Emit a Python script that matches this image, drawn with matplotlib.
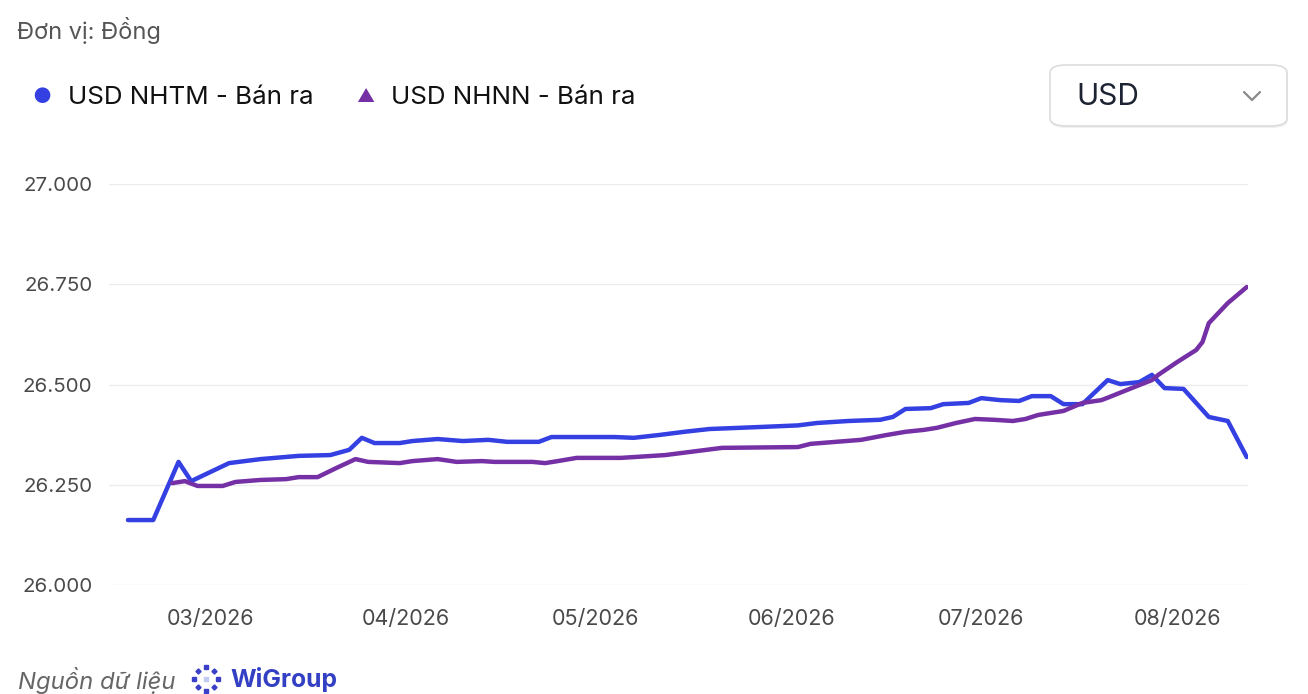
import matplotlib
matplotlib.use("Agg")
import matplotlib.pyplot as plt
import matplotlib.dates as mdates
from matplotlib.patches import FancyBboxPatch
import numpy as np
import pandas as pd

# ---------------- data ----------------
nhtm_dates = ["2026-02-16", "2026-02-20", "2026-02-24", "2026-02-26", "2026-03-04",
              "2026-03-09", "2026-03-15", "2026-03-20", "2026-03-23", "2026-03-25",
              "2026-03-27", "2026-03-31", "2026-04-02", "2026-04-06", "2026-04-10",
              "2026-04-14", "2026-04-17", "2026-04-22", "2026-04-24", "2026-05-04",
              "2026-05-07", "2026-05-11", "2026-05-15", "2026-05-19", "2026-05-27",
              "2026-06-02", "2026-06-05", "2026-06-10", "2026-06-15", "2026-06-17",
              "2026-06-19", "2026-06-23", "2026-06-25", "2026-06-29", "2026-07-01",
              "2026-07-04", "2026-07-07", "2026-07-09", "2026-07-12", "2026-07-14",
              "2026-07-17", "2026-07-21", "2026-07-23", "2026-07-26", "2026-07-28",
              "2026-07-30", "2026-08-02", "2026-08-06", "2026-08-09", "2026-08-12"]
nhtm_values = [26162, 26162, 26307, 26259, 26304,
               26314, 26322, 26324, 26337, 26367,
               26354, 26354, 26359, 26364, 26359,
               26362, 26357, 26357, 26369, 26369,
               26367, 26374, 26382, 26389, 26394,
               26398, 26404, 26409, 26412, 26419,
               26439, 26441, 26451, 26454, 26466,
               26461, 26459, 26471, 26471, 26451,
               26451, 26511, 26501, 26506, 26524,
               26491, 26489, 26419, 26409, 26319]

nhnn_dates = ["2026-02-23", "2026-02-25", "2026-02-27", "2026-03-03", "2026-03-05",
              "2026-03-09", "2026-03-13", "2026-03-15", "2026-03-18", "2026-03-21",
              "2026-03-24", "2026-03-26", "2026-03-31", "2026-04-02", "2026-04-06",
              "2026-04-09", "2026-04-13", "2026-04-15", "2026-04-21", "2026-04-23",
              "2026-04-25", "2026-04-28", "2026-05-05", "2026-05-12", "2026-05-16",
              "2026-05-21", "2026-06-02", "2026-06-04", "2026-06-08", "2026-06-12",
              "2026-06-16", "2026-06-19", "2026-06-22", "2026-06-24", "2026-06-27",
              "2026-06-30", "2026-07-03", "2026-07-06", "2026-07-08", "2026-07-10",
              "2026-07-14", "2026-07-17", "2026-07-20", "2026-07-21", "2026-07-24",
              "2026-07-28", "2026-07-29", "2026-08-01", "2026-08-04", "2026-08-05",
              "2026-08-06", "2026-08-09", "2026-08-12"]
nhnn_values = [26254, 26259, 26247, 26247, 26257,
               26262, 26264, 26269, 26269, 26292,
               26314, 26307, 26304, 26309, 26314,
               26307, 26309, 26307, 26307, 26304,
               26309, 26317, 26317, 26324, 26332,
               26342, 26344, 26352, 26357, 26362,
               26374, 26382, 26387, 26392, 26404,
               26414, 26412, 26409, 26414, 26424,
               26434, 26454, 26461, 26467, 26486,
               26511, 26524, 26556, 26586, 26606,
               26653, 26703, 26743]

y_ticks = [26000, 26250, 26500, 26750, 27000]
y_tick_labels = ["26.000", "26.250", "26.500", "26.750", "27.000"]
x_tick_dates = ["2026-03-01", "2026-04-01", "2026-05-01", "2026-06-01", "2026-07-01", "2026-08-01"]
x_tick_labels = ["03/2026", "04/2026", "05/2026", "06/2026", "07/2026", "08/2026"]

series_names = ["USD NHTM - Bán ra", "USD NHNN - Bán ra"]
BLUE = "#3440E2"
PURPLE = "#7530A6"

# ---------------- figure ----------------
plt.rcParams['font.family'] = ['Inter', 'DejaVu Sans']
W, H = 1308, 694
fig = plt.figure(figsize=(W / 100, H / 100), dpi=100)
fig.patch.set_facecolor("white")

ax_left, ax_right, ax_top, ax_bottom = 109, 1248, 184, 585
ax = fig.add_axes([ax_left / W, (H - ax_bottom) / H,
                   (ax_right - ax_left) / W, (ax_bottom - ax_top) / H])

d1 = pd.to_datetime(nhtm_dates)
d2 = pd.to_datetime(nhnn_dates)
ax.plot(d1, nhtm_values, color=BLUE, lw=3.2, solid_joinstyle="round",
        solid_capstyle="round", zorder=3)
ax.plot(d2, nhnn_values, color=PURPLE, lw=3.2, solid_joinstyle="round",
        solid_capstyle="round", zorder=3)

mar1 = mdates.date2num(pd.Timestamp("2026-03-01"))
ax.set_xlim(mar1 - 16.0, mar1 + 164.2)
ax.set_ylim(26000, 27000)

ax.set_yticks(y_ticks)
ax.set_yticklabels(y_tick_labels)
ax.set_xticks(pd.to_datetime(x_tick_dates))
ax.set_xticklabels(x_tick_labels)
ax.tick_params(axis="y", length=0, pad=12, labelsize=14.8, labelcolor="#4a4a4a")
ax.tick_params(axis="x", length=0, pad=17, labelsize=15.5, labelcolor="#4a4a4a")
for s in ax.spines.values():
    s.set_visible(False)
ax.grid(axis="y", color="#ececec", lw=1.0)
ax.grid(axis="x", visible=False)
ax.set_axisbelow(True)

# ---------------- header ----------------
def fx(px):
    return px / W

def fy(py):
    return 1 - py / H

fig.text(fx(17), fy(30), "Đơn vị: Đồng", fontsize=17, color="#555555",
         va="center", ha="left")

# legend
fig.text(fx(42), fy(97), "●", fontsize=15, color=BLUE, ha="center", va="center")
fig.text(fx(68), fy(97), series_names[0], fontsize=18.7, color="#111111",
         ha="left", va="center")
fig.text(fx(365), fy(97), "▲", fontsize=13, color=PURPLE, ha="center", va="center")
fig.text(fx(391), fy(97), series_names[1], fontsize=18.7, color="#111111",
         ha="left", va="center")

# dropdown box
shadow = FancyBboxPatch((fx(1051), fy(128)), fx(1288) - fx(1051), fy(66) - fy(128),
                        boxstyle="round,pad=0,rounding_size=0.012",
                        transform=fig.transFigure, facecolor="#f0f0f0",
                        edgecolor="none", zorder=1)
fig.patches.append(shadow)
box = FancyBboxPatch((fx(1050), fy(126)), fx(1287) - fx(1050), fy(65) - fy(126),
                     boxstyle="round,pad=0,rounding_size=0.012",
                     transform=fig.transFigure, facecolor="white",
                     edgecolor="#dcdcdc", lw=1.2, zorder=2)
fig.patches.append(box)
fig.text(fx(1076), fy(97), "USD", fontsize=21.5, color="#1d2333",
         ha="left", va="center", zorder=3)
fig.lines.append(plt.Line2D([fx(1244), fx(1252), fx(1260)], [fy(92), fy(100), fy(92)],
                            transform=fig.transFigure, color="#8a8a8a", lw=1.6,
                            solid_capstyle="round", zorder=3))

# ---------------- footer ----------------
fig.text(fx(18), fy(680), "Nguồn dữ liệu", fontsize=17.2, color="#666666",
         style="italic", ha="left", va="center")
cx, cy, r = 206, 679, 12
for k in range(8):
    ang = np.pi / 2 - k * np.pi / 4
    px = cx + r * np.cos(ang)
    py = cy - r * np.sin(ang)
    marker = "s" if k % 2 == 0 else "D"
    fig.lines.append(plt.Line2D([fx(px)], [fy(py)], transform=fig.transFigure,
                                marker=marker, markersize=2.6, color="#3a3fc8",
                                linestyle="none"))
fig.lines.append(plt.Line2D([fx(cx)], [fy(cy)], transform=fig.transFigure,
                            marker="s", markersize=2.8, color="#c2cbf2",
                            linestyle="none"))
fig.text(fx(230), fy(680), "WiGroup", fontsize=17.8, color="#3340c4",
         fontweight="bold", ha="left", va="center")

fig.savefig("out.png", dpi=100, facecolor="white")
